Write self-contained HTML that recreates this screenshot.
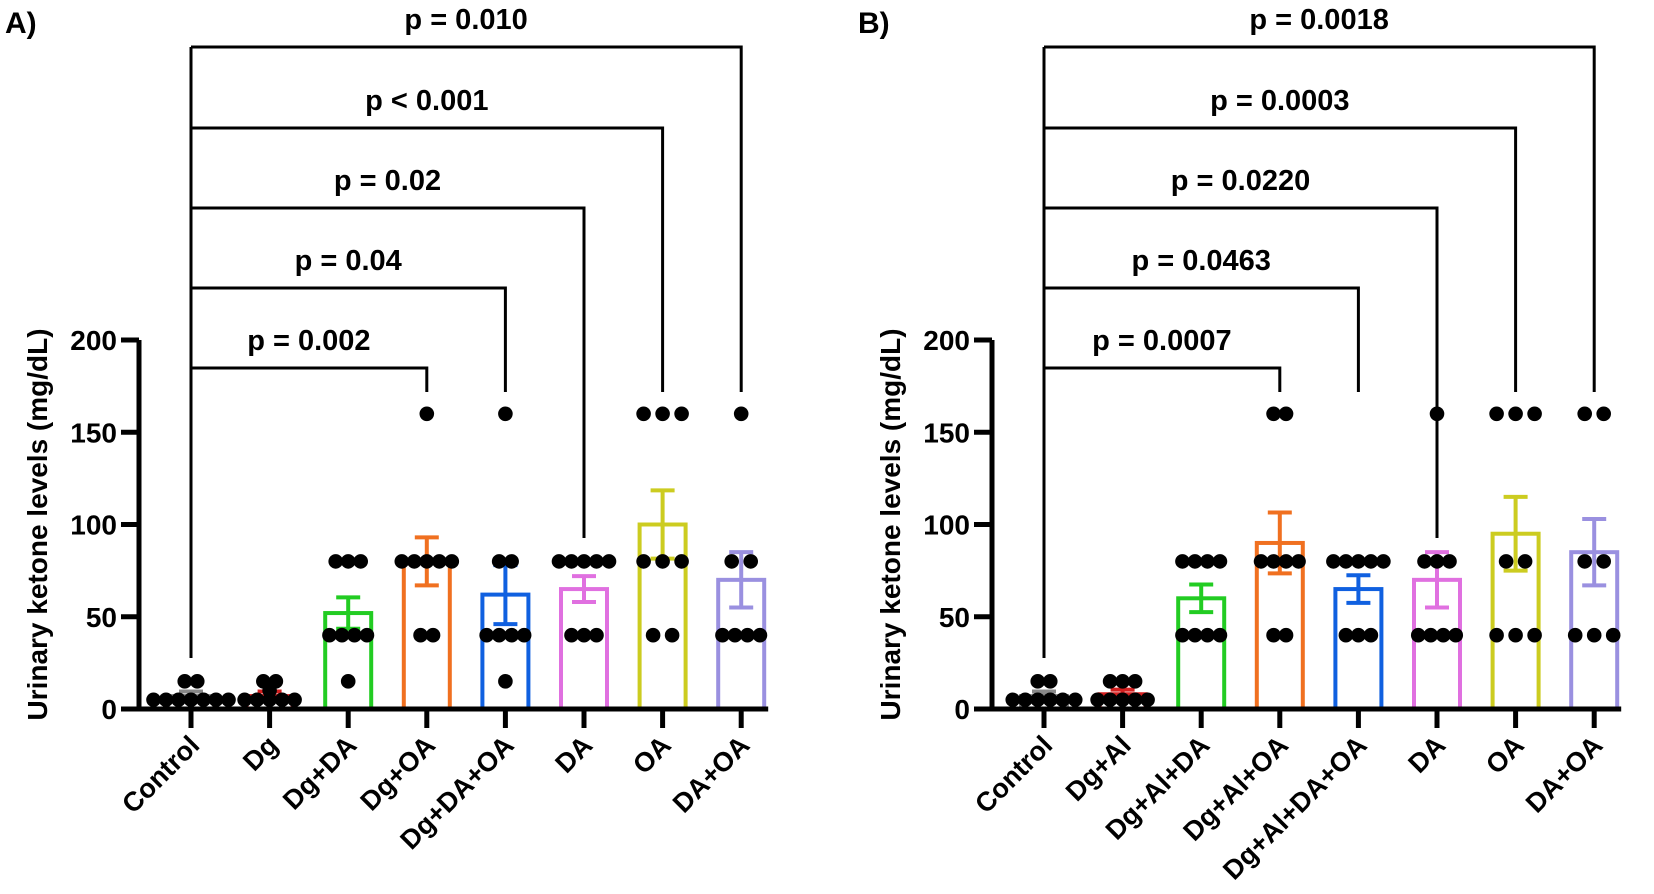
<!DOCTYPE html>
<html><head><meta charset="utf-8"><style>
body{margin:0;background:#fff}
svg{display:block}
text{font-family:"Liberation Sans",Arial,sans-serif;font-weight:bold;fill:#000}
</style></head><body>
<svg id="chart" width="1654" height="894" viewBox="0 0 1654 894"></svg>
<script>
const catsA=["Control","Dg","Dg+DA","Dg+OA","Dg+DA+OA","DA","OA","DA+OA"];
const catsB=["Control","Dg+Al","Dg+Al+DA","Dg+Al+OA","Dg+Al+DA+OA","DA","OA","DA+OA"];
const colors=["#888888","#d42020","#22cc22","#f07020","#1060e0","#e070e0","#cccc20","#9a90e0"];
const meansA=[7,7,52,80,62,65,100,70];
const semA=[2.5,2.5,8.5,13,16,7,18.5,15];
const pointsA=[[15,15,5,5,5,5,5,5,5],[15,15,10,5,5,5,5,5],[80,80,80,40,40,40,40,15],[160,80,80,80,80,80,40,40],[160,80,80,40,40,40,40,15],[80,80,80,80,80,40,40,40],[160,160,160,80,80,80,40,40],[160,80,80,40,40,40,40]];
const meansB=[7,8,60,90,65,70,95,85];
const semB=[2.5,2.5,7.5,16.5,7.5,15,20,18];
const pointsB=[[15,15,5,5,5,5,5,5],[15,15,15,5,5,5,5,5],[80,80,80,80,40,40,40,40],[160,160,80,80,80,80,40,40],[80,80,80,80,80,40,40,40],[160,80,80,80,40,40,40,40],[160,160,160,80,80,40,40,40],[160,160,80,80,40,40,40]];
const pvalsA=["p = 0.002","p = 0.04","p = 0.02","p < 0.001","p = 0.010"];
const pvalsB=["p = 0.0007","p = 0.0463","p = 0.0220","p = 0.0003","p = 0.0018"];
const compTargets=[3,4,5,6,7];
const yTicks=[0,50,100,150,200];

const svg=document.getElementById('chart');
const NS="http://www.w3.org/2000/svg";
function mk(tag,attrs,parent){const e=document.createElementNS(NS,tag);for(const k in attrs)e.setAttribute(k,attrs[k]);(parent||svg).appendChild(e);return e;}

function panel(ox,cats,means,sem,points,pvals,letter,id){
  const g=mk('g',{});
  
  
  const axX=ox, y0=709, ppu=369/200, x0=ox+52, step=78.6, bw=46;
  const y=v=>y0-v*ppu, x=i=>x0+i*step;
  const lt=mk('text',{x:ox-134,y:33,'font-size':30},g);lt.textContent=letter;
  
  
  cats.forEach((c,i)=>{
    const r=mk('rect',{x:x(i)-bw/2,y:y(means[i]),width:bw,height:y0-y(means[i]),fill:'none',stroke:colors[i],'stroke-width':4},g);
    
    
    const eb=mk('path',{d:`M${x(i)} ${y(means[i]-sem[i])}V${y(means[i]+sem[i])}M${x(i)-12} ${y(means[i]+sem[i])}h24M${x(i)-12} ${y(means[i]-sem[i])}h24`,stroke:colors[i],'stroke-width':4,fill:'none'},g);
    
    
    const groups={};points[i].forEach(v=>{groups[v]=(groups[v]||0)+1;});
    for(const v in groups){const n=groups[v];for(let k=0;k<n;k++){
      const sp=(n<=3&&i>=6)?19:12.5;
      const d=mk('circle',{cx:x(i)+(k-(n-1)/2)*sp,cy:y(+v),r:7.3,fill:'#000'},g);
      
      
    }}
  });
  const ya=mk('path',{d:`M${axX} ${y(200)}V${y0+2}`,stroke:'#000','stroke-width':5},g);
  
  const xa=mk('path',{d:`M${axX-2} ${y0}H${x(7)+bw/2+4}`,stroke:'#000','stroke-width':5},g);
  
  yTicks.forEach(t=>{
    mk('path',{d:`M${axX-18} ${y(t)}H${axX}`,stroke:'#000','stroke-width':5},g);
    const tl=mk('text',{x:axX-22,y:y(t)+10,'font-size':28,'text-anchor':'end'},g);tl.textContent=t;
    
  });
  cats.forEach((c,i)=>{
    mk('path',{d:`M${x(i)} ${y0}v19`,stroke:'#000','stroke-width':5},g);
    const tl=mk('text',{x:x(i)+10,y:y0+38,'font-size':27,'text-anchor':'end',transform:`rotate(-45 ${x(i)+10} ${y0+38})`},g);tl.textContent=c;
    
  });
  const yt=mk('text',{x:0,y:0,'font-size':28,'text-anchor':'middle',transform:`translate(${ox-92} ${y(100)}) rotate(-90)`},g);
  yt.textContent='Urinary ketone levels (mg/dL)';
  
  const levels=[368,288,208,128,47];
  const stemEnd=[392,392,538,392,392];
  mk('path',{d:`M${x(0)} 658V47`,stroke:'#000','stroke-width':3},g);
  compTargets.forEach((t,j)=>{
    const b=mk('path',{d:`M${x(0)} ${levels[j]}H${x(t)}V${stemEnd[j]}`,stroke:'#000','stroke-width':3,fill:'none'},g);
    
    const p=mk('text',{x:(x(0)+x(t))/2,y:levels[j]-18,'font-size':29,'text-anchor':'middle'},g);p.textContent=pvals[j];
    
  });
}
panel(139,catsA,meansA,semA,pointsA,pvalsA,'A)','a');
panel(992,catsB,meansB,semB,pointsB,pvalsB,'B)','b');
</script>
</body></html>
